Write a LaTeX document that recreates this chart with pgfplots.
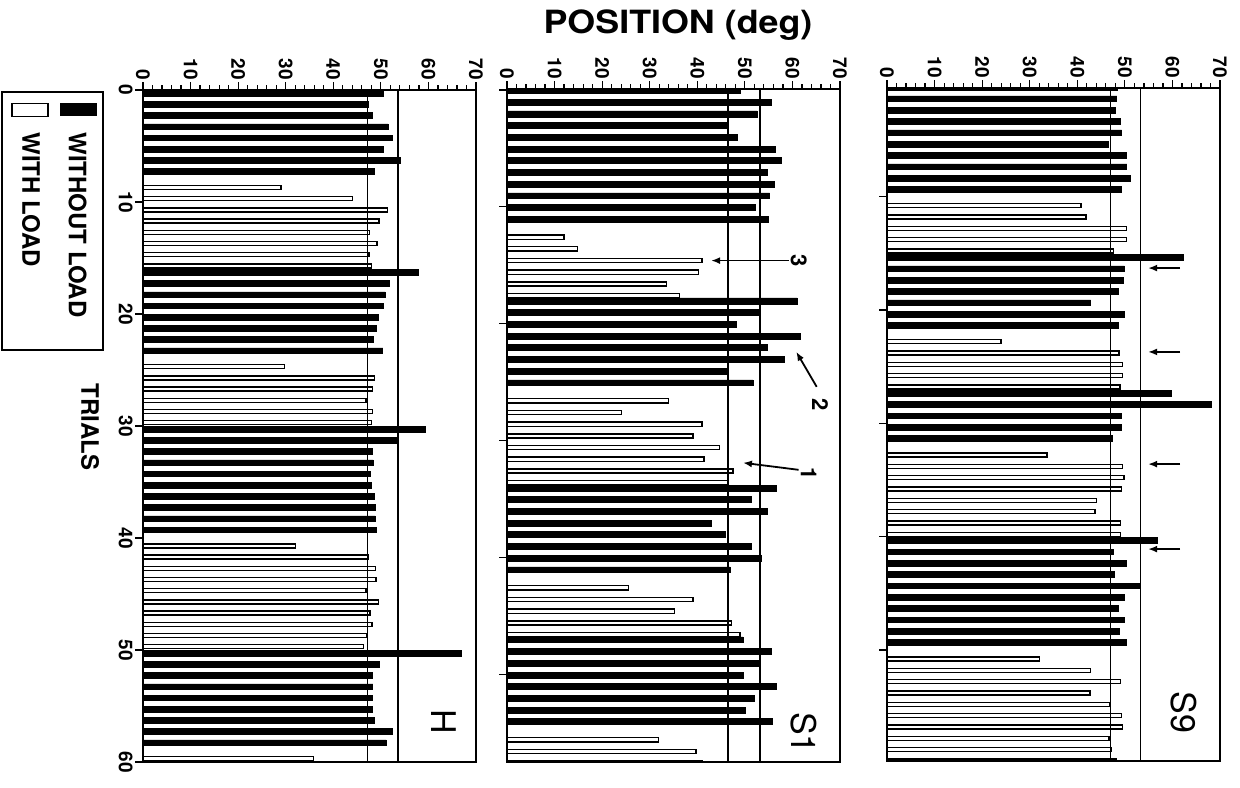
\documentclass[border=0pt]{standalone}
\usepackage{pgfplots}
\pgfplotsset{compat=1.18}
\usepackage{pgfplotstable}
\usepackage{fontspec}
\setmainfont{TeX Gyre Heros}
\usetikzlibrary{arrows.meta}

% ---------- H ----------
\pgfplotstableread{
k v
1 50.5
2 47.3
3 48.2
4 51.5
5 52.5
6 50.6
7 54.1
8 48.7
17 57.9
18 51.8
19 50.9
20 50.5
21 49.4
22 49.1
23 48.5
24 50.4
31 59.3
32 53.2
33 48.2
34 48.4
35 47.7
36 48.0
37 48.6
38 48.8
39 48.8
40 49.0
51 66.9
52 49.7
53 48.3
54 48.3
55 48.3
56 48.3
57 48.7
58 52.4
59 51.1
}\Hblack
\pgfplotstableread{
k v
9 29.0
10 44.1
11 51.4
12 49.6
13 47.6
14 49.2
15 47.5
16 48.0
25 29.8
26 48.7
27 48.2
28 46.9
29 48.2
30 48.0
41 32.0
42 47.3
43 48.9
44 49.0
45 46.9
46 49.5
47 47.7
48 48.1
49 47.0
50 46.3
60 35.8
}\Hwhite
% ---------- S1 ----------
\pgfplotstableread{
k v
1 49.0
2 55.5
3 52.6
4 46.5
5 48.5
6 56.5
7 57.6
8 54.7
9 56.1
10 55.2
11 52.2
12 55.0
19 61.0
20 52.8
21 48.3
22 61.7
23 54.7
24 58.2
25 46.5
26 51.7
35 56.7
36 51.3
37 54.8
38 42.9
39 45.8
40 51.3
41 53.4
42 46.9
48 49.6
49 55.5
50 52.9
51 49.6
52 56.7
53 51.9
54 50.0
55 55.8
}\Sablack
\pgfplotstableread{
k v
13 12.0
14 14.8
15 41.0
16 40.2
17 33.5
18 36.2
27 34.0
28 24.1
29 41.0
30 39.1
31 44.7
32 41.4
33 47.5
34 46.6
43 25.6
44 39.1
45 35.2
46 47.2
47 49.0
56 31.8
57 39.7
58 41.0
}\Sawhite
% ---------- S9 ----------
\pgfplotstableread{
k v
1 48.5
2 48.3
3 47.9
4 49.0
5 49.3
6 46.5
7 50.2
8 50.4
9 51.2
10 49.3
16 62.3
17 49.9
18 49.6
19 48.6
20 42.8
21 49.8
22 48.6
28 59.7
29 68.2
30 49.2
31 49.3
32 47.4
41 56.9
42 47.6
43 50.2
44 47.7
45 53.2
46 49.8
47 48.6
48 49.8
49 48.9
50 50.3
}\Sbblack
\pgfplotstableread{
k v
11 40.8
12 41.8
13 50.3
14 50.3
15 47.6
23 24.0
24 48.8
25 49.5
26 49.5
27 49.0
33 33.6
34 49.5
35 49.8
36 49.3
37 44.0
38 43.7
39 49.1
40 49.1
51 32.0
52 42.8
53 49.1
54 42.7
55 46.9
56 49.3
57 49.5
58 46.7
59 47.2
60 48.1
}\Sbwhite

\newcommand\tickfont{\bfseries\fontsize{9.5}{9.5}\selectfont}
\tikzset{arr/.style={-{Latex[length=4.5pt,width=3.5pt]}, line width=0.8pt}}
\pgfplotsset{
  panel/.style={
    scale only axis, width=166.5pt, anchor=north west,
    xmin=0, xmax=70, y dir=reverse,
    axis line style={line width=0.9pt},
    axis on top,
    xtick={0,10,...,70}, minor x tick num=4,
    xtick pos=right, xticklabel pos=right,
    ytick pos=left,
    tick align=outside,
    major tick length=4pt, minor tick length=2.5pt,
    every tick/.style={black, line width=0.6pt},
    xticklabel style={rotate=-90, anchor=east, font=\tickfont, inner sep=1pt},
    /pgf/number format/assume math mode=true,
  },
  blk/.style={xbar, bar shift=0pt, bar width=0.5, fill=black, draw=black, line width=0.3pt},
  wht/.style={xbar, bar shift=0pt, bar width=0.36, fill=white, draw=black, line width=0.7pt},
  refl/.style={black, line width=0.8pt, no marks},
}

\begin{document}
\begin{tikzpicture}
\useasboundingbox (0pt,0pt) rectangle (620pt,-393.5pt);

% title
\node[font=\bfseries\fontsize{16}{16}\selectfont] at (339pt,-12.5pt) {\scalebox{1.12}[1]{POSITION (deg)}};

% ---- H panel ----
\begin{axis}[panel, at={(71.5pt,-45pt)}, height=336pt,
  ymin=0, ymax=60, ytick={0,10,...,60},
  yticklabel style={rotate=-90, anchor=north, font=\tickfont, inner sep=1pt}]
\addplot[blk] table[x=v, y expr=\thisrow{k}-0.72] {\Hblack};
\addplot[wht] table[x=v, y expr=\thisrow{k}-0.3] {\Hwhite};
\addplot[refl] coordinates {(47.2,-1) (47.2,61)};
\addplot[refl] coordinates {(53.6,-1) (53.6,61)};
\node[rotate=-90, font=\fontsize{17}{17}\selectfont] at (axis cs:63.2,56.4) {H};
\end{axis}

% ---- S1 panel ----
\begin{axis}[panel, at={(253.5pt,-44.5pt)}, height=336.5pt,
  ymin=-0.08, ymax=57.5, ytick={0,10,...,50}, yticklabels={}]
\addplot[blk] table[x=v, y expr=\thisrow{k}-0.95] {\Sablack};
\addplot[wht] table[x=v, y expr=\thisrow{k}-0.4] {\Sawhite};
\addplot[refl] coordinates {(46.5,-1) (46.5,61)};
\addplot[refl] coordinates {(53.2,-1) (53.2,61)};
\draw[arr, line width=0.9pt] (axis cs:59.2,14.6) -- (axis cs:42.9,14.6);
\node[rotate=-90, font=\bfseries\fontsize{11}{11}\selectfont] at (axis cs:61.3,14.6) {3};
\draw[arr, line width=0.9pt] (axis cs:65.1,25.4) -- (axis cs:60.8,22.4);
\node[rotate=-90, font=\bfseries\fontsize{11}{11}\selectfont] at (axis cs:65.8,26.9) {2};
\draw[arr, line width=0.9pt] (axis cs:61.3,32.5) -- (axis cs:49.6,31.9);
\node[rotate=-90, font=\bfseries\fontsize{11}{11}\selectfont] at (axis cs:63.4,32.8) {1};
\node[rotate=-90, font=\fontsize{17}{17}\selectfont] at (axis cs:62.4,55.0) {S1};
\end{axis}

% ---- S9 panel ----
\begin{axis}[panel, at={(443.5pt,-44pt)}, height=336.5pt,
  ymin=0.41, ymax=59.8, ytick={0,10,...,60}, yticklabels={}]
\addplot[blk] table[x=v, y expr=\thisrow{k}-0.65] {\Sbblack};
\addplot[wht] table[x=v, y expr=\thisrow{k}-0.2] {\Sbwhite};
\addplot[refl] coordinates {(47.0,-1) (47.0,61)};
\addplot[refl] coordinates {(53.3,-1) (53.3,61)};
\draw[arr] (axis cs:61.6,16.3) -- (axis cs:54.9,16.3);
\draw[arr] (axis cs:61.6,23.7) -- (axis cs:54.9,23.7);
\draw[arr] (axis cs:61.6,33.6) -- (axis cs:54.9,33.6);
\draw[arr] (axis cs:61.6,41.1) -- (axis cs:54.9,41.1);
\node[rotate=-90, font=\fontsize{17}{17}\selectfont] at (axis cs:62.4,55.5) {S9};
\end{axis}

% ---- legend ----
\draw[line width=1pt] (0.75pt,-46pt) rectangle (51.5pt,-175pt);
\fill[black] (30pt,-51.5pt) rectangle (48.5pt,-58pt);
\draw[line width=0.8pt, fill=white] (6pt,-51.8pt) rectangle (24pt,-58.3pt);
\node[rotate=-90, anchor=west, inner sep=0pt, font=\bfseries\fontsize{12}{12}\selectfont] at (38.8pt,-66pt) {WITHOUT LOAD};
\node[rotate=-90, anchor=west, inner sep=0pt, font=\bfseries\fontsize{12}{12}\selectfont] at (15.5pt,-66pt) {WITH LOAD};

% ---- trials label ----
\node[rotate=-90, font=\bfseries\fontsize{12}{12}\selectfont] at (45pt,-213.5pt) {TRIALS};
\end{tikzpicture}
\end{document}
